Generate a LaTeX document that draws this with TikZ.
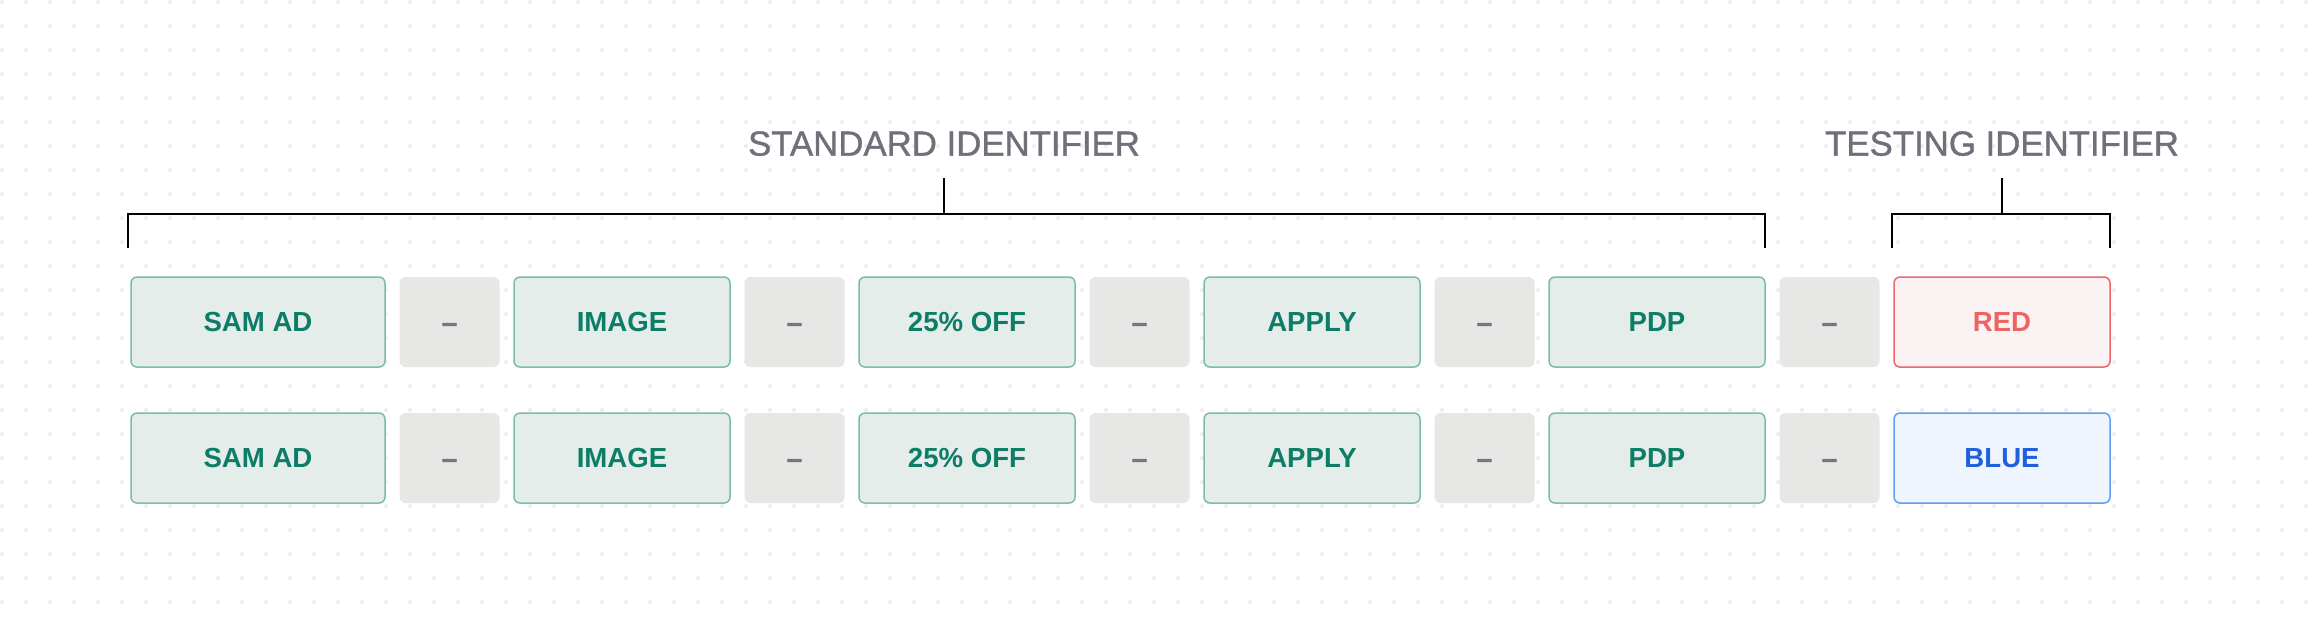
\documentclass[tikz,border=0pt]{standalone}
\usepackage{fontspec}
\setmainfont{Liberation Sans}
\newfontfamily\headfont{Liberation Sans}[FakeBold=1]
\newfontfamily\dashfont{Liberation Sans Bold}[FakeBold=2]
\usepackage{tikz}
\usetikzlibrary{positioning}
\definecolor{dotgray}{HTML}{EDEDED}
\definecolor{partfill}{HTML}{E4EDEA}
\definecolor{partline}{HTML}{7BBBAE}
\definecolor{parttext}{HTML}{0D7D68}
\definecolor{dashfill}{HTML}{E7E7E6}
\definecolor{dashtext}{HTML}{76767E}
\definecolor{headtext}{HTML}{6F7079}
\definecolor{redfill}{HTML}{FBF3F3}
\definecolor{redline}{HTML}{F0656A}
\definecolor{redtext}{HTML}{EE6462}
\definecolor{bluefill}{HTML}{EEF5FE}
\definecolor{blueline}{HTML}{5E9FF2}
\definecolor{bluetext}{HTML}{1F60DF}

\begin{document}
\begin{tikzpicture}[x=0.5pt,y=-0.5pt,node distance=7.25pt,
    part/.style={draw=partline,fill=partfill,text=parttext,line width=0.75pt,rounded corners=3pt,
                 minimum width=108pt,minimum height=45pt,inner sep=0pt,outer sep=0pt,
                 font=\fontsize{13.8pt}{16pt}\selectfont\bfseries,text height=9.9pt,text depth=0pt},
    dashbox/.style={part,draw=none,fill=dashfill,text=dashtext,minimum width=50pt,
                 font=\fontsize{13.8pt}{16pt}\dashfont},
    redpart/.style={part,draw=redline,fill=redfill,text=redtext},
    bluepart/.style={part,draw=blueline,fill=bluefill,text=bluetext},
    head/.style={text=headtext,inner sep=0pt,font=\fontsize{17.4pt}{20pt}\headfont,text height=12.6pt,text depth=0pt},
    brace/.style={line width=1pt}]
  \fill[white] (0,0) rectangle (2310,622);
  \useasboundingbox (0,0) rectangle (2310,622);
  % dotted canvas
  \foreach \i in {0,...,96}
    \foreach \j in {0,...,25}
      \fill[dotgray] (2+24*\i,2+24*\j) circle (1pt);

  % the two names
  \foreach \r/\y/\last/\col in {a/322/RED/redpart, b/458/BLUE/bluepart} {
    \node[part,minimum width=127pt] (\r1) at (258,\y) {SAM AD};
    \node[dashbox,right=of \r1] (\r2) {\textendash};
    \node[part,right=of \r2] (\r3) {IMAGE};
    \node[dashbox,right=of \r3] (\r4) {\textendash};
    \node[part,right=of \r4] (\r5) {25\% OFF};
    \node[dashbox,right=of \r5] (\r6) {\textendash};
    \node[part,right=of \r6] (\r7) {APPLY};
    \node[dashbox,right=of \r7] (\r8) {\textendash};
    \node[part,right=of \r8] (\r9) {PDP};
    \node[dashbox,right=of \r9] (\r10) {\textendash};
    \node[\col,right=of \r10] (\r11) {\last};
  }

  % brackets
  \node[head] (std) at (944,143) {STANDARD IDENTIFIER};
  \node[head] (tst) at (2002,143) {TESTING IDENTIFIER};
  \coordinate (stdL) at (128,248);
  \coordinate (stdR) at (1765,248);
  \coordinate (stdM) at (944,214);
  \coordinate (tstL) at (1892,248);
  \coordinate (tstR) at (2110,248);
  \coordinate (tstM) at (2002,214);
  \draw[brace] (stdL) |- (stdM) -| (stdR);
  \draw[brace] ([yshift=-11pt]std.south) -- (stdM);
  \draw[brace] (tstL) |- (tstM) -| (tstR);
  \draw[brace] ([yshift=-11pt]tst.south) -- (tstM);
\end{tikzpicture}
\end{document}
